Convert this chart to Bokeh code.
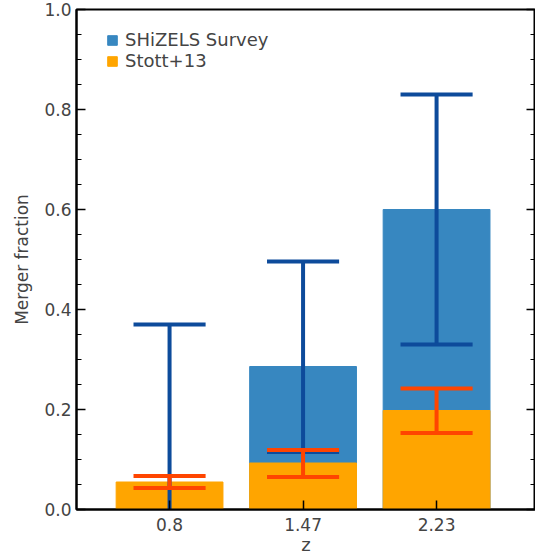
from bokeh.plotting import figure
from bokeh.models import Range1d, FixedTicker, LinearAxis, Legend, LegendItem
from bokeh.embed import file_html
from bokeh.resources import INLINE

# ---- data ----
z_labels = ["0.8", "1.47", "2.23"]
shizels_frac = [0.0, 0.286, 0.600]
shizels_lo = [-0.05, 0.115, 0.330]
shizels_hi = [0.370, 0.496, 0.830]
stott_frac = [0.055, 0.093, 0.198]
stott_lo = [0.043, 0.065, 0.153]
stott_hi = [0.067, 0.119, 0.242]
y_ticks = [0.0, 0.2, 0.4, 0.6, 0.8, 1.0]
y_tick_labels = ["0.0", "0.2", "0.4", "0.6", "0.8", "1.0"]
y_minor = [0.0, 0.05, 0.1, 0.15, 0.2, 0.25, 0.3, 0.35, 0.4, 0.45, 0.5,
           0.55, 0.6, 0.65, 0.7, 0.75, 0.8, 0.85, 0.9, 0.95, 1.0]

FONT = "DejaVu Sans"
BLUE = "#3787c0"
BLUE_ERR = "#0d4b9b"
ORANGE = "#ffa500"
ORANGE_ERR = "#ff4500"

x = list(range(len(z_labels)))
cap = 0.27
bar_w = 0.8
x_lo, x_hi = -0.697, 2.741

p = figure(frame_width=459, frame_height=500, output_backend="svg", toolbar_location=None,
           x_range=Range1d(x_lo, x_hi), y_range=Range1d(0, 1.0),
           min_border_left=76, min_border_right=0, min_border_top=9,
           min_border_bottom=0)
p.grid.visible = False
p.outline_line_color = "black"
p.outline_line_width = 2
p.background_fill_color = "white"

rb = p.vbar(x=x, top=shizels_frac, bottom=0, width=bar_w, color=BLUE)
ro = p.vbar(x=x, top=stott_frac, bottom=0, width=bar_w, color=ORANGE)

# SHiZELS error bars
p.segment(x0=x, y0=shizels_lo, x1=x, y1=shizels_hi, line_color=BLUE_ERR, line_width=4)
p.segment(x0=[v - cap for v in x], y0=shizels_hi, x1=[v + cap for v in x], y1=shizels_hi,
          line_color=BLUE_ERR, line_width=4)
p.segment(x0=[v - cap for v in x], y0=shizels_lo, x1=[v + cap for v in x], y1=shizels_lo,
          line_color=BLUE_ERR, line_width=4)
# Stott error bars
p.segment(x0=x, y0=stott_lo, x1=x, y1=stott_hi, line_color=ORANGE_ERR, line_width=4)
p.segment(x0=[v - cap for v in x], y0=stott_hi, x1=[v + cap for v in x], y1=stott_hi,
          line_color=ORANGE_ERR, line_width=4)
p.segment(x0=[v - cap for v in x], y0=stott_lo, x1=[v + cap for v in x], y1=stott_lo,
          line_color=ORANGE_ERR, line_width=4)

# y axis (left)
ya = p.yaxis[0]
ya.ticker = FixedTicker(ticks=y_ticks, minor_ticks=y_minor)
ya.major_label_overrides = {t: l for t, l in zip(y_ticks, y_tick_labels)}
ya.axis_label = "Merger fraction"
ya.axis_label_text_font = FONT
ya.axis_label_text_font_size = "17px"
ya.axis_label_text_font_style = "normal"
ya.axis_label_standoff = 9
ya.major_label_text_font = FONT
ya.major_label_text_font_size = "17px"
ya.major_label_standoff = 5
ya.major_tick_in = 9
ya.major_tick_out = 0
ya.minor_tick_in = 5
ya.minor_tick_out = 0
ya.axis_line_width = 2
ya.major_tick_line_width = 1.5
ya.minor_tick_line_width = 1.2

# right axis with ticks only
ra = LinearAxis(ticker=FixedTicker(ticks=y_ticks, minor_ticks=y_minor),
                major_label_text_font_size="1px", major_label_text_color=None,
                major_label_standoff=0,
                major_tick_in=9, major_tick_out=0, minor_tick_in=5, minor_tick_out=0,
                axis_line_width=2, major_tick_line_width=1.5, minor_tick_line_width=1.2)
p.add_layout(ra, "right")

# x axis
xa = p.xaxis[0]
xa.ticker = FixedTicker(ticks=x)
xa.major_label_overrides = {i: l for i, l in zip(x, z_labels)}
xa.axis_label = "z"
xa.axis_label_text_font = FONT
xa.axis_label_text_font_size = "18px"
xa.axis_label_text_font_style = "normal"
xa.axis_label_standoff = 0
xa.major_label_text_font = FONT
xa.major_label_text_font_size = "17px"
xa.major_label_standoff = 8
xa.major_tick_in = 9
xa.major_tick_out = 0
xa.minor_tick_line_color = None
xa.axis_line_width = 2
xa.major_tick_line_width = 1.5

legend = Legend(items=[LegendItem(label="SHiZELS Survey", renderers=[rb]),
                       LegendItem(label="Stott+13", renderers=[ro])],
                location=(30, 438), padding=0, margin=0, spacing=0,
                glyph_width=12, glyph_height=12, label_height=20,
                label_standoff=7, label_text_font=FONT,
                label_text_font_size="18px",
                border_line_alpha=0, background_fill_alpha=0)
p.add_layout(legend)

open("out.html", "w").write(file_html(p, INLINE))
